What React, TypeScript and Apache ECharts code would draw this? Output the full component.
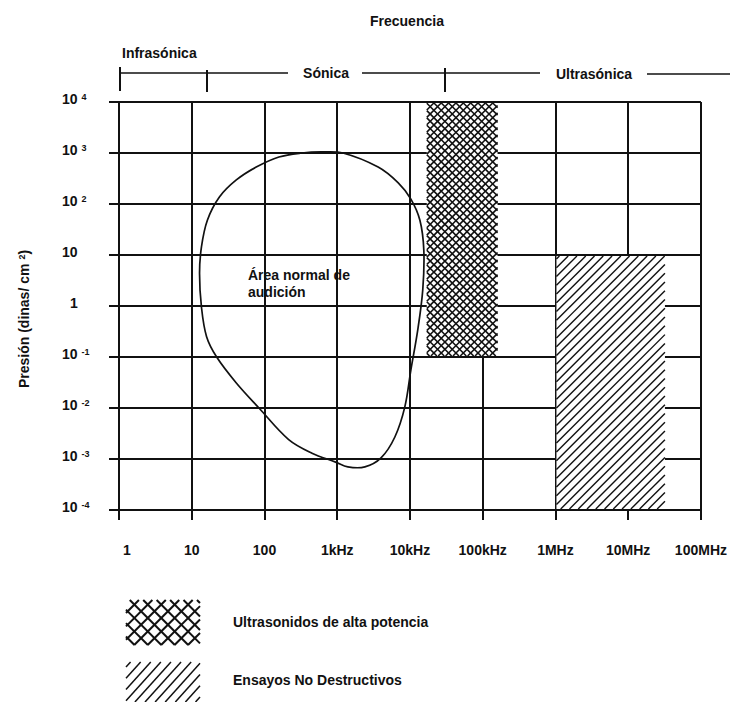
import React, { useEffect, useRef } from "react";
import * as echarts from "echarts";

// ---------- data ----------
const xTickLabels = ["{one|1}", "10", "100", "1kHz", "10kHz", "100kHz", "1MHz", "10MHz", "100MHz"];
const yTickLabels = ["10{s|-4}", "10{s|-3}", "10{s|-2}", "10{s|-1}", "{one|1}", "10", "10{s|2}", "10{s|3}", "10{s|4}"];

// closed contour of the normal hearing area (Hz, dinas/cm²)
const audFreq = [325, 610, 1200, 3650, 6900, 10300, 13700, 15500, 15000, 12800, 10300, 8500, 6200, 4000, 2400, 1400, 950, 450, 215, 84, 41, 22, 16, 13.6, 12.8, 13.6, 16.4, 24, 41, 77, 158];
const audPressure = [1000, 1050, 1000, 530, 260, 125, 48, 12.5, 2.1, 0.34, 0.056, 0.0105, 0.0027, 0.00105, 0.0007, 0.0007, 0.00087, 0.0013, 0.0024, 0.01, 0.031, 0.1, 0.25, 0.95, 4.4, 14.4, 48, 137, 296, 530, 836];

// high power ultrasound band
const highPowerFreq = [16500, 160000];
const highPowerPressure = [0.1, 10000];
// non destructive testing band
const ndtFreq = [1000000, 32000000];
const ndtPressure = [0.0001, 10];

const bandNames = ["Infrasónica", "Sónica", "Ultrasónica"];
const seriesNames = ["Área normal de audición", "Ultrasonidos de alta potencia", "Ensayos No Destructivos"];

// ---------- helpers ----------
const FONT = "Liberation Sans, Arial, sans-serif";
const FS = 14;
const INK = "#111";

function hatch(x0: number, y0: number, x1: number, y1: number, angleDeg: number, spacing: number, lineWidth: number) {
  const a = (angleDeg * Math.PI) / 180;
  const dx = Math.cos(a), dy = -Math.sin(a);
  const nx = -dy, ny = dx;
  const cs = [[x0, y0], [x1, y0], [x0, y1], [x1, y1]].map(([x, y]) => x * nx + y * ny);
  const cmin = Math.min(...cs), cmax = Math.max(...cs);
  const out: any[] = [];
  for (let c = Math.ceil(cmin / spacing) * spacing; c <= cmax; c += spacing) {
    const px = nx * c, py = ny * c;
    let tmin = -1e9, tmax = 1e9;
    if (Math.abs(dx) > 1e-9) {
      let ta = (x0 - px) / dx, tb = (x1 - px) / dx;
      if (ta > tb) [ta, tb] = [tb, ta];
      tmin = Math.max(tmin, ta); tmax = Math.min(tmax, tb);
    } else if (px < x0 || px > x1) continue;
    if (Math.abs(dy) > 1e-9) {
      let ta = (y0 - py) / dy, tb = (y1 - py) / dy;
      if (ta > tb) [ta, tb] = [tb, ta];
      tmin = Math.max(tmin, ta); tmax = Math.min(tmax, tb);
    } else if (py < y0 || py > y1) continue;
    if (tmax - tmin > 0.8) {
      out.push({
        type: "line",
        shape: { x1: px + tmin * dx, y1: py + tmin * dy, x2: px + tmax * dx, y2: py + tmax * dy },
        style: { stroke: INK, lineWidth },
      });
    }
  }
  return out;
}

function crossHatch(x0: number, y0: number, x1: number, y1: number, spacing: number, lw: number) {
  return [...hatch(x0, y0, x1, y1, 45, spacing, lw), ...hatch(x0, y0, x1, y1, 135, spacing, lw)];
}

function bandRenderer(kind: "cross" | "diag") {
  return (params: any, api: any) => {
    const a = api.coord([api.value(0), api.value(3)]);
    const b = api.coord([api.value(1), api.value(2)]);
    const x0 = Math.min(a[0], b[0]) + 1, x1 = Math.max(a[0], b[0]);
    const y0 = Math.min(a[1], b[1]) + 1, y1 = Math.max(a[1], b[1]) - 1;
    const lines = kind === "cross" ? crossHatch(x0, y0, x1, y1, 5.2, 1.6) : hatch(x0, y0, x1, y1, 45, 6.2, 1.4);
    return {
      type: "group",
      children: [
        { type: "rect", shape: { x: x0, y: y0, width: x1 - x0, height: y1 - y0 }, style: { fill: "#fff" } },
        ...lines,
      ],
    };
  };
}

const supRich = {
  s: { fontSize: 9, fontWeight: "bold", fontFamily: FONT, color: INK, verticalAlign: "top", padding: [0, 0, 0, 4] },
  one: { fontSize: FS, fontWeight: "bold", fontFamily: FONT, color: INK, padding: [0, 0, 0, 8] },
};
const xRich = {
  one: { fontSize: FS, fontWeight: "bold", fontFamily: FONT, color: INK, padding: [0, 0, 0, 16] },
};

export default function App() {
  const ref = useRef<HTMLDivElement>(null);
  useEffect(() => {
    if (!ref.current) return;
    const chart = echarts.init(ref.current, undefined, { renderer: "svg" });
    const txt = (text: string, x: number, y: number, align = "left", extra: any = {}) => ({
      type: "text",
      style: { text, x, y, fill: INK, font: `bold ${FS}px ${FONT}`, textAlign: align, textVerticalAlign: "middle", ...extra },
    });
    const seg = (x1: number, y1: number, x2: number, y2: number, lw = 1.6) => ({
      type: "line",
      shape: { x1, y1, x2, y2 },
      style: { stroke: INK, lineWidth: lw },
    });

    const option: any = {
      animation: false,
      backgroundColor: "#fff",
      title: {
        text: "Frecuencia",
        left: 365,
        top: 9,
        textStyle: { fontFamily: FONT, fontSize: FS, fontWeight: "bold", color: INK },
      },
      grid: { left: 119, right: 25, top: 102, bottom: 192, containLabel: false },
      xAxis: {
        type: "log",
        logBase: 10,
        min: 1,
        max: 1e8,
        splitNumber: 8,
        axisLine: { show: true, lineStyle: { color: INK, width: 2 } },
        axisTick: { show: true, inside: false, length: 10, lineStyle: { color: INK, width: 2 } },
        splitLine: { show: true, lineStyle: { color: INK, width: 2 } },
        minorTick: { show: false },
        axisLabel: {
          margin: 33,
          color: INK,
          fontFamily: FONT,
          fontSize: FS,
          fontWeight: "bold",
          showMinLabel: true,
          showMaxLabel: true,
          rich: xRich,
          formatter: (v: number) => xTickLabels[Math.round(Math.log10(v))] ?? "",
        },
      },
      yAxis: {
        type: "log",
        logBase: 10,
        min: 1e-4,
        max: 1e4,
        splitNumber: 8,
        axisLine: { show: true, lineStyle: { color: INK, width: 2 } },
        axisTick: { show: true, inside: false, length: 10, lineStyle: { color: INK, width: 2 } },
        splitLine: { show: true, lineStyle: { color: INK, width: 2 } },
        minorTick: { show: false },
        axisLabel: {
          margin: 57,
          align: "left",
          color: INK,
          fontFamily: FONT,
          fontSize: FS,
          fontWeight: "bold",
          padding: [0, 0, 6, 0],
          showMinLabel: true,
          showMaxLabel: true,
          rich: supRich,
          formatter: (v: number) => yTickLabels[Math.round(Math.log10(v)) + 4] ?? "",
        },
      },
      series: [
        {
          name: seriesNames[1],
          type: "custom",
          renderItem: bandRenderer("cross"),
          encode: { x: [0, 1], y: [2, 3] },
          data: [[highPowerFreq[0], highPowerFreq[1], highPowerPressure[0], highPowerPressure[1]]],
          z: 2,
        },
        {
          name: seriesNames[2],
          type: "custom",
          renderItem: bandRenderer("diag"),
          encode: { x: [0, 1], y: [2, 3] },
          data: [[ndtFreq[0], ndtFreq[1], ndtPressure[0], ndtPressure[1]]],
          z: 2,
        },
        {
          name: seriesNames[0],
          type: "custom",
          encode: { x: 0, y: 1 },
          data: audFreq.map((f, i) => [f, audPressure[i]]),
          renderItem: (params: any, api: any) => {
            if (params.dataIndex !== 0) return null;
            const pts = audFreq.map((f, i) => api.coord([f, audPressure[i]]));
            return {
              type: "polygon",
              shape: { points: pts, smooth: 0.35 },
              style: { fill: "none", stroke: INK, lineWidth: 1.7 },
            };
          },
          z: 3,
        },
      ],
      graphic: [
        // frequency bands bracket
        txt(bandNames[0], 122, 53),
        seg(119, 73, 288, 73),
        txt(bandNames[1], 326, 73, "center"),
        seg(362, 73, 540, 73),
        txt(bandNames[2], 594, 74, "center"),
        seg(647, 74, 730, 74),
        seg(120, 67, 120, 91, 2),
        seg(207, 70, 207, 92, 2),
        seg(445, 68, 445, 92, 2),
        // y axis title
        {
          type: "text",
          x: 24,
          y: 319,
          rotation: Math.PI / 2,
          style: {
            text: "Presión (dinas/ cm{s|2})",
            fill: INK,
            font: `bold ${FS}px ${FONT}`,
            textAlign: "center",
            textVerticalAlign: "middle",
            rich: supRich,
          },
        },
        // label inside hearing area
        {
          type: "text",
          style: {
            text: "Área normal de\naudición",
            x: 248,
            y: 266,
            fill: INK,
            font: `bold ${FS}px ${FONT}`,
            textAlign: "left",
            textVerticalAlign: "top",
            lineHeight: 17,
          },
        },
        // legend
        { type: "group", children: crossHatch(126, 600, 200, 645, 9.5, 2) },
        txt(seriesNames[1], 233, 622),
        { type: "group", children: hatch(126, 662, 200, 702, 48, 7.5, 1.5) },
        txt(seriesNames[2], 233, 680),
      ],
    };
    chart.setOption(option);
    return () => chart.dispose();
  }, []);
  return <div ref={ref} style={{ position: "absolute", left: 0, top: 0, width: 730, height: 702 }} />;
}
